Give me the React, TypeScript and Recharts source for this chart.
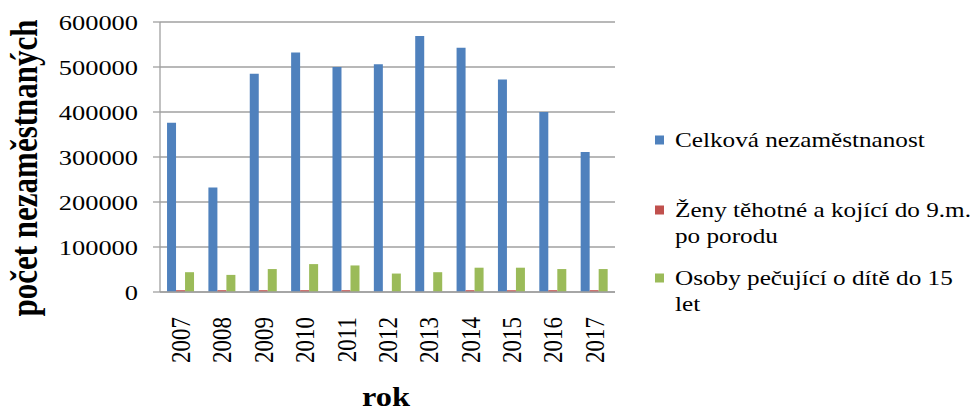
import React from 'react'
import { BarChart, Bar, XAxis, YAxis, CartesianGrid, Legend } from 'recharts'

const years = ['2007', '2008', '2009', '2010', '2011', '2012', '2013', '2014', '2015', '2016', '2017']
const celkova = [376000, 232000, 485000, 532000, 500000, 506000, 569000, 543000, 472000, 400000, 311000]
const zeny = [4000, 4000, 4000, 4000, 4000, 0, 0, 4000, 4000, 4000, 4000]
const osoby = [44000, 38000, 51000, 62000, 59000, 41000, 44000, 54000, 54000, 51000, 51000]
const yTicks = [0, 100000, 200000, 300000, 400000, 500000, 600000]

const series = [
  { key: 'celkova', name: 'Celková nezaměstnanost', color: '#4F81BD' },
  { key: 'zeny', name: 'Ženy těhotné a kojící do 9.m. po porodu', color: '#C0504D' },
  { key: 'osoby', name: 'Osoby pečující o dítě do 15 let', color: '#9BBB59' },
]

const data = years.map((rok, i) => ({ rok, celkova: celkova[i], zeny: zeny[i], osoby: osoby[i] }))

const FONT = '"Liberation Serif", "Times New Roman", serif'
const GREY = '#a0a0a0'
const STRETCH = 1.2

// wrap legend text by char count, like excel does it in the narrow legend box
function wrap(text: string, max: number) {
  const lines: string[] = []
  let cur = ''
  text.split(' ').forEach((w) => {
    const next = cur ? cur + ' ' + w : w
    if (next.length > max && cur) {
      lines.push(cur)
      cur = w
    } else {
      cur = next
    }
  })
  if (cur) lines.push(cur)
  return lines
}

const YTick = (props: any) => {
  const { x, y, payload } = props
  return (
    <g transform={`translate(${x},${y}) scale(${STRETCH},1)`}>
      <text textAnchor="end" dy="0.35em" fontSize={22} fill="#000" fontFamily={FONT}>
        {payload.value}
      </text>
    </g>
  )
}

const XTick = (props: any) => {
  const { x, y, payload } = props
  return (
    <g transform={`translate(${x},${y}) scale(${STRETCH},1) rotate(-90)`}>
      <text textAnchor="end" dy="0.34em" fontSize={23} fill="#000" fontFamily={FONT}>
        {payload.value}
      </text>
    </g>
  )
}

const renderLegend = (props: any) => {
  const payload = [...(props.payload || [])].sort(
    (a: any, b: any) =>
      series.findIndex((s) => s.name === a.value) - series.findIndex((s) => s.name === b.value)
  )
  const baselines = [22, 92, 160]
  const lineH = 26.5
  return (
    <svg width={331} height={200} style={{ overflow: 'visible' }}>
      {payload.map((entry: any, i: number) => {
        const lines = wrap(entry.value, 29)
        const b = baselines[i]
        return (
          <g key={entry.value}>
            <rect x={10} y={b - 11.5} width={9} height={9} fill={entry.color} />
            <g transform={`translate(30,0) scale(${STRETCH},1)`}>
              {lines.map((ln, j) => (
                <text key={j} x={0} y={b + j * lineH} fontSize={21} fill="#000" fontFamily={FONT}>
                  {ln}
                </text>
              ))}
            </g>
          </g>
        )
      })}
    </svg>
  )
}

export default function App() {
  return (
    <div style={{ position: 'absolute', left: 0, top: 0, width: 976, height: 412, background: '#fff' }}>
      <BarChart
        width={976}
        height={412}
        data={data}
        margin={{ top: 22, right: 361, left: 60, bottom: 0 }}
        barCategoryGap="17%"
        barGap={0}
        style={{ fontFamily: FONT }}
      >
        <CartesianGrid vertical={false} stroke={GREY} strokeWidth={1.3} />
        <XAxis
          dataKey="rok"
          height={120}
          interval={0}
          axisLine={{ stroke: GREY, strokeWidth: 1.3 }}
          tickLine={false}
          tickSize={0}
          tickMargin={25}
          tick={<XTick />}
          label={{
            content: () => (
              <g transform={`translate(386,406) scale(${STRETCH},1)`}>
                <text textAnchor="middle" fontSize={27} fontWeight="bold" fill="#000" fontFamily={FONT}>
                  rok
                </text>
              </g>
            ),
          }}
        />
        <YAxis
          width={100}
          domain={[0, 600000]}
          ticks={yTicks}
          interval={0}
          axisLine={{ stroke: GREY, strokeWidth: 1.3 }}
          tickLine={{ stroke: GREY, strokeWidth: 1.3 }}
          tickSize={7}
          tickMargin={15}
          tick={<YTick />}
          label={{
            content: () => (
              <g transform={`translate(37,168) scale(${STRETCH},1) rotate(-90)`}>
                <text textAnchor="middle" fontSize={31} fontWeight="bold" fill="#000" fontFamily={FONT}>
                  počet nezaměstnaných
                </text>
              </g>
            ),
          }}
        />
        <Legend
          layout="vertical"
          align="center"
          verticalAlign="middle"
          content={renderLegend}
          wrapperStyle={{ left: 645, top: 125, width: 331 }}
        />
        {series.map((s) => (
          <Bar key={s.key} dataKey={s.key} name={s.name} fill={s.color} isAnimationActive={false} />
        ))}
      </BarChart>
    </div>
  )
}
